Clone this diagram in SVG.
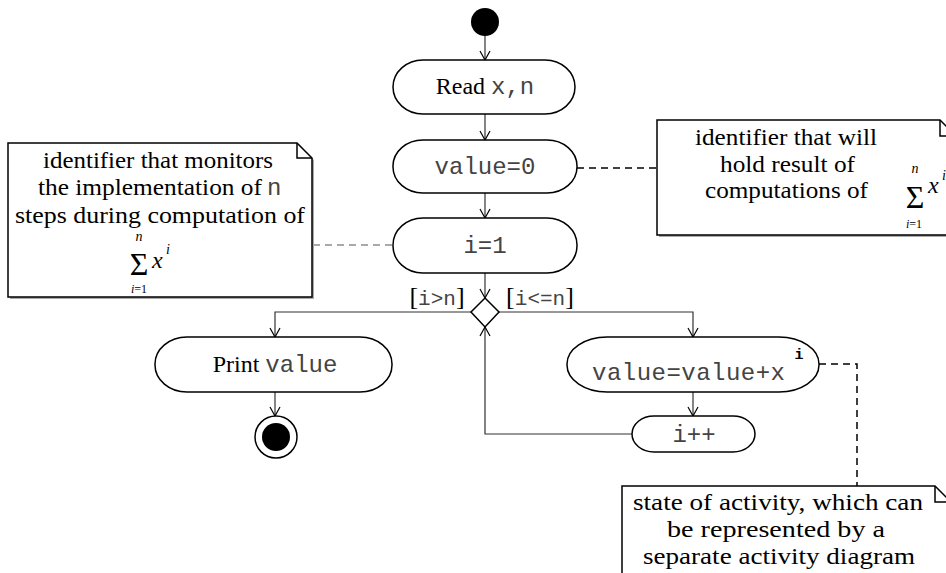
<svg xmlns="http://www.w3.org/2000/svg" width="946" height="573" viewBox="0 0 946 573">
<style>
.node{fill:#fff;stroke:#000;stroke-width:1.5}
.note{fill:#fff;stroke:#000;stroke-width:1.5}
.shadow{fill:#aaa}
.fold{fill:none;stroke:#000;stroke-width:1.5}
.edge{fill:none;stroke:#333;stroke-width:1.2}
.dash{fill:none;stroke:#000;stroke-width:1.5;stroke-dasharray:7,5}
.dash2{fill:none;stroke:#555;stroke-width:1.1;stroke-dasharray:7,5}
.serif{font-family:"Liberation Serif","Times New Roman",serif;font-size:23px;fill:#000}
.sn{font-family:"Liberation Serif","Times New Roman",serif;font-size:24px;fill:#000}
.mono{font-family:"Liberation Mono","Courier New",monospace;font-size:24px;fill:#444}
.guard{font-family:"Liberation Mono","Courier New",monospace;font-size:21px;fill:#444}
.br{font-family:"Liberation Serif","Times New Roman",serif;font-size:26px;fill:#000}
.it{font-family:"Liberation Serif","Times New Roman",serif;font-style:italic;fill:#000}
.sig{font-family:"Liberation Serif","Times New Roman",serif;font-size:32px;fill:#000}
</style>
<defs>
<marker id="arr" markerWidth="12" markerHeight="12" refX="10" refY="6" orient="auto" markerUnits="userSpaceOnUse">
<path d="M1,1 L10,6 L1,11" fill="none" stroke="#000" stroke-width="1.2"/>
</marker>
</defs>

<g id="connectors">
<line class="edge" x1="485" y1="36" x2="485" y2="60" marker-end="url(#arr)"/>
<line class="edge" x1="485" y1="114" x2="485" y2="140" marker-end="url(#arr)"/>
<line class="edge" x1="485" y1="193" x2="485" y2="218" marker-end="url(#arr)"/>
<line class="edge" x1="485" y1="273" x2="485" y2="298" marker-end="url(#arr)"/>
<polyline class="edge" points="472,312 275,312 275,337" marker-end="url(#arr)"/>
<polyline class="edge" points="499,312 693,312 693,337" marker-end="url(#arr)"/>
<line class="edge" x1="275" y1="392" x2="275" y2="416" marker-end="url(#arr)"/>
<line class="edge" x1="693" y1="392" x2="693" y2="416" marker-end="url(#arr)"/>
<polyline class="edge" points="632,434 485,434 485,327" marker-end="url(#arr)"/>
<polyline class="dash" points="577,168 657,168"/>
<polyline class="dash2" points="313,245 393,245"/>
<polyline class="dash" points="819,364 857,364 857,486"/>
</g>

<g id="start">
<circle cx="485" cy="22" r="14" fill="#000"/>
</g>

<g id="read">
<rect class="node" x="393" y="60" width="182" height="54" rx="30" ry="27"/>
<text x="485" y="94" text-anchor="middle"><tspan class="sn">Read </tspan><tspan class="mono">x,n</tspan></text>
</g>

<g id="value0">
<rect class="node" x="393" y="140" width="184" height="53" rx="30" ry="26"/>
<text class="mono" x="485" y="174" text-anchor="middle">value=0</text>
</g>

<g id="i1">
<rect class="node" x="393" y="218" width="184" height="55" rx="30" ry="27"/>
<text class="mono" x="485" y="253" text-anchor="middle">i=1</text>
</g>

<g id="decision">
<polygon class="node" points="485,298 499,312 485,327 471,312"/>
<text x="437" y="305" text-anchor="middle"><tspan class="br">[</tspan><tspan class="guard">i&gt;n</tspan><tspan class="br">]</tspan></text>
<text x="540" y="305" text-anchor="middle"><tspan class="br">[</tspan><tspan class="guard">i&lt;=n</tspan><tspan class="br">]</tspan></text>
</g>

<g id="print">
<rect class="node" x="155" y="337" width="237" height="55" rx="32" ry="27"/>
<text x="275" y="372" text-anchor="middle"><tspan class="sn">Print </tspan><tspan class="mono" font-size="25">value</tspan></text>
</g>

<g id="final">
<circle cx="276" cy="437" r="21" fill="#fff" stroke="#000" stroke-width="1.5"/>
<circle cx="276" cy="437" r="14" fill="#000"/>
</g>

<g id="accum">
<rect class="node" x="567" y="337" width="252" height="55" rx="40" ry="27"/>
<text class="mono" x="592" y="380" textLength="193">value=value+x</text>
<text x="799" y="359" font-family="Liberation Mono, Courier New, monospace" font-size="15" font-weight="bold" text-anchor="middle" fill="#000">i</text>
</g>

<g id="inc">
<rect class="node" x="632" y="416" width="123" height="36" rx="22" ry="18"/>
<text class="mono" x="694" y="442" text-anchor="middle">i++</text>
</g>

<g id="note-left">
<polygon class="shadow" points="10,145 299,145 314,160 314,299 10,299"/>
<polygon class="note" points="8,143 297,143 312,158 312,297 8,297"/>
<polyline class="fold" points="297,143 297,158 312,158"/>
<text class="serif" x="43" y="168" textLength="230" lengthAdjust="spacingAndGlyphs">identifier that monitors</text>
<text class="serif" x="38" y="195" textLength="224" lengthAdjust="spacingAndGlyphs">the implementation of</text>
<text class="mono" font-size="22" x="267" y="195">n</text>
<text class="serif" x="15" y="223" textLength="290" lengthAdjust="spacingAndGlyphs">steps during computation of</text>
<text class="it" font-size="14" x="139" y="241" text-anchor="middle">n</text>
<text class="sig" x="139" y="275" text-anchor="middle">Σ</text>
<text class="it" font-size="12" x="139" y="293" text-anchor="middle">i<tspan font-style="normal">=1</tspan></text>
<text class="it" font-size="24" x="152" y="268">x</text>
<text class="it" font-size="14" x="166" y="254">i</text>
</g>

<g id="note-right">
<polygon class="shadow" points="659,122 942,122 958,138 958,237 659,237"/>
<polygon class="note" points="657,120 940,120 956,136 956,235 657,235"/>
<polyline class="fold" points="940,120 940,136 956,136"/>
<text class="serif" x="695" y="145" textLength="182" lengthAdjust="spacingAndGlyphs">identifier that will</text>
<text class="serif" x="720" y="172" textLength="135" lengthAdjust="spacingAndGlyphs">hold result of</text>
<text class="serif" x="705" y="198" textLength="163" lengthAdjust="spacingAndGlyphs">computations of</text>
<text class="it" font-size="14" x="915" y="173" text-anchor="middle">n</text>
<text class="sig" x="915" y="208" text-anchor="middle">Σ</text>
<text class="it" font-size="12" x="914" y="228" text-anchor="middle">i<tspan font-style="normal">=1</tspan></text>
<text class="it" font-size="24" x="928" y="193">x</text>
<text class="it" font-size="14" x="942" y="180">i</text>
</g>

<g id="note-bottom">
<polygon class="shadow" points="624,488 937,488 953,504 953,580 624,580"/>
<polygon class="note" points="622,486 935,486 951,502 951,580 622,580"/>
<polyline class="fold" points="935,486 935,502 951,502"/>
<text class="serif" x="633" y="510" textLength="290" lengthAdjust="spacingAndGlyphs">state of activity, which can</text>
<text class="serif" x="667" y="537" textLength="218" lengthAdjust="spacingAndGlyphs">be represented by a</text>
<text class="serif" x="643" y="564" textLength="272" lengthAdjust="spacingAndGlyphs">separate activity diagram</text>
</g>
</svg>
